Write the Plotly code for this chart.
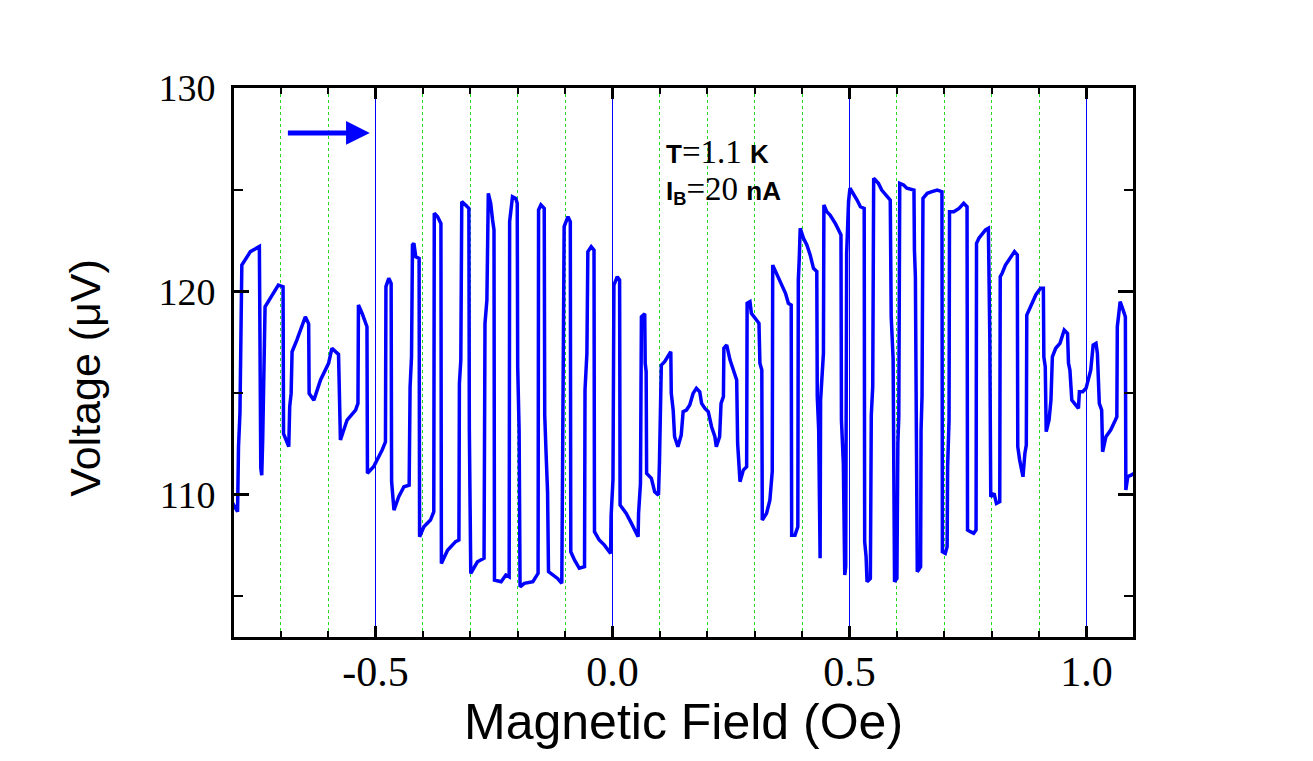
import plotly.graph_objects as go

# ---- data ----
field = [
    -0.803, -0.791, -0.789, -0.786, -0.782, -0.773, -0.764, -0.745, -0.742, -0.740,
    -0.738, -0.733, -0.705, -0.695, -0.694, -0.683, -0.681, -0.678, -0.676, -0.666,
    -0.648, -0.641, -0.640, -0.630, -0.616, -0.599, -0.592, -0.578, -0.574, -0.560,
    -0.542, -0.537, -0.536, -0.528, -0.521, -0.518, -0.517, -0.504, -0.486,
    -0.479, -0.478, -0.472, -0.467, -0.466, -0.461, -0.451, -0.440, -0.429, -0.427,
    -0.425, -0.424, -0.422, -0.419, -0.415, -0.408, -0.407, -0.398, -0.384, -0.377,
    -0.376, -0.369, -0.362, -0.361, -0.348, -0.331, -0.324, -0.323, -0.320, -0.318,
    -0.310, -0.303, -0.302, -0.299, -0.285, -0.271, -0.269, -0.265, -0.262, -0.257,
    -0.253, -0.250, -0.249, -0.235, -0.225, -0.218, -0.217, -0.213, -0.211, -0.204,
    -0.201, -0.200, -0.197, -0.195, -0.186, -0.168,
    -0.161, -0.157, -0.156, -0.151, -0.144, -0.143, -0.140, -0.137, -0.135, -0.126,
    -0.116, -0.107, -0.106, -0.104, -0.102, -0.094, -0.089, -0.088, -0.080, -0.070,
    -0.059, -0.058, -0.054, -0.052, -0.045, -0.039, -0.038, -0.028, -0.017, -0.004,
    -0.003, 0.001, 0.003, 0.010, 0.015, 0.016, 0.029, 0.040, 0.054, 0.055,
    0.059, 0.061, 0.068, 0.069, 0.071, 0.072, 0.082, 0.089, 0.097, 0.099,
    0.103, 0.110, 0.123, 0.124, 0.128, 0.131, 0.138, 0.145, 0.149,
    0.156, 0.163, 0.170, 0.177, 0.184, 0.188, 0.195, 0.202, 0.209, 0.216,
    0.219, 0.226, 0.229, 0.234, 0.235, 0.241, 0.248, 0.255, 0.262, 0.264,
    0.269, 0.276, 0.283, 0.284, 0.290, 0.293, 0.304, 0.309, 0.311, 0.315,
    0.316, 0.325, 0.332, 0.337, 0.338, 0.343, 0.350, 0.357, 0.365, 0.371,
    0.377, 0.378, 0.385, 0.391, 0.392, 0.394, 0.396, 0.403, 0.410, 0.417,
    0.424, 0.431, 0.432, 0.435, 0.438, 0.439, 0.442, 0.445, 0.446, 0.452,
    0.459, 0.466,
    0.470, 0.477, 0.482, 0.483, 0.487, 0.490, 0.492, 0.494, 0.498, 0.501,
    0.508, 0.516, 0.523, 0.531, 0.532, 0.535, 0.537, 0.544, 0.546, 0.549,
    0.551, 0.561, 0.568, 0.579, 0.586, 0.588, 0.592, 0.595, 0.600, 0.602,
    0.604, 0.606, 0.614, 0.621, 0.636, 0.637, 0.639, 0.643, 0.650, 0.651,
    0.653, 0.655, 0.664, 0.674, 0.685, 0.695, 0.696, 0.702, 0.706, 0.707,
    0.710, 0.711, 0.720, 0.731, 0.741, 0.748, 0.749, 0.755, 0.762, 0.767,
    0.768, 0.773, 0.780,
    0.787, 0.793, 0.794, 0.796, 0.798, 0.805, 0.810, 0.817, 0.818, 0.822,
    0.829, 0.836, 0.848, 0.854, 0.855, 0.859, 0.863, 0.866, 0.870, 0.873,
    0.874, 0.879, 0.886, 0.893, 0.903, 0.909, 0.910, 0.913, 0.915, 0.921,
    0.925, 0.928, 0.935, 0.944, 0.953, 0.960, 0.962, 0.965, 0.969, 0.976,
    0.983, 0.985, 0.992, 0.999, 1.004, 1.009, 1.014, 1.020, 1.023, 1.027,
    1.032, 1.034, 1.041, 1.051, 1.061, 1.064, 1.065, 1.068, 1.071, 1.076,
    1.082, 1.083, 1.087, 1.094, 1.101,
]

voltage = [
    109.65, 109.16, 112.36, 114.00, 121.29, 121.60, 121.95, 122.20, 111.30, 110.96,
    112.69, 119.24, 120.31, 120.23, 113.00, 112.36, 114.33, 114.98, 117.03, 117.60,
    118.75, 118.40, 114.98, 114.65, 115.64, 116.46, 117.20, 116.90, 112.69, 113.67,
    114.16, 114.49, 119.33, 118.90, 118.40, 118.26, 111.05, 111.37, 112.20,
    112.60, 120.23, 120.64, 120.39, 110.64, 109.24, 109.90, 110.39, 110.47, 115.31,
    116.05, 116.78, 122.28, 122.36, 121.70, 121.62, 107.93, 108.42, 108.75, 109.16,
    123.84, 123.67, 123.34, 106.62, 107.27, 107.69, 107.77, 115.47, 116.62, 124.41,
    124.25, 124.08, 113.18, 106.13, 106.70, 106.87, 118.43, 119.57, 124.82, 124.33,
    123.51, 123.02, 105.80, 105.72, 106.05, 105.96, 123.43, 124.33, 124.65, 124.57,
    124.33, 116.30, 113.18, 105.47, 105.64, 105.72,
    105.96, 106.13, 124.00, 124.25, 124.08, 113.92, 111.95, 110.14, 106.21, 106.05,
    105.88, 105.64, 110.06, 112.36, 123.18, 123.67, 123.43, 107.19, 106.78, 106.38,
    106.46, 115.15, 116.95, 121.95, 122.20, 122.03, 108.18, 107.77, 107.52, 107.11,
    108.92, 110.72, 120.31, 120.72, 120.56, 109.49, 109.08, 108.59, 107.93, 109.08,
    110.55, 118.75, 118.90, 116.46, 116.05, 111.05, 110.80, 110.14, 109.98, 111.54,
    116.37, 116.54, 117.03, 114.98, 114.16, 112.85, 112.36, 112.93, 114.08,
    114.16, 114.41, 114.98, 115.23, 115.06, 114.49, 114.24, 114.08, 113.34, 112.85,
    112.36, 112.85, 114.49, 114.82, 117.20, 117.36, 116.62, 116.13, 115.64, 112.52,
    110.64, 111.21, 111.37, 119.41, 119.49, 118.92, 118.59, 118.43, 116.46, 116.13,
    108.75, 109.08, 109.73, 111.13, 121.29, 121.05, 120.64, 120.31, 119.90, 119.41,
    119.33, 108.01, 108.01, 108.42, 120.56, 121.62, 123.10, 122.61, 122.28, 121.79,
    121.13, 120.97, 114.82, 113.18, 106.87, 114.65, 115.64, 116.95, 124.25, 123.92,
    123.75, 123.51,
    123.34, 123.02, 122.77, 113.67, 111.54, 106.05, 106.46, 121.87, 124.41, 125.07,
    124.82, 124.49, 124.16, 124.08, 107.69, 106.95, 105.72, 105.88, 113.92, 115.31,
    125.56, 125.31, 124.98, 124.65, 124.49, 118.75, 116.70, 105.72, 105.88, 112.52,
    113.83, 125.31, 125.23, 125.07, 124.98, 122.03, 120.72, 106.21, 106.46, 113.18,
    114.82, 124.57, 124.82, 124.90, 124.98, 124.90, 107.19, 107.11, 107.44, 111.37,
    113.67, 123.92, 123.92, 124.08, 124.33, 124.16, 108.26, 108.18, 108.10, 108.26,
    122.36, 122.61, 122.85,
    123.02, 123.10, 118.59, 117.77, 109.90, 110.06, 109.57, 109.65, 120.72, 120.89,
    121.29, 121.54, 121.95, 121.79, 112.36, 111.70, 111.29, 110.88, 112.03, 112.44,
    118.83, 119.08, 119.49, 119.82, 120.15, 120.15, 116.78, 116.29, 113.10, 113.67,
    114.65, 116.78, 117.20, 117.44, 118.10, 117.93, 116.46, 116.13, 114.65, 114.41,
    114.24, 115.06, 115.06, 115.23, 115.72, 116.13, 117.36, 117.44, 116.95, 114.49,
    114.16, 112.11, 112.85, 113.18, 113.67, 113.83, 118.26, 118.75, 119.49, 119.16,
    118.75, 110.23, 110.88, 110.96, 111.05,
]

# axis range chosen so the 0.5-step grid lines fall on pixel centres (crisp blue lines)
x_range = [-0.7985232, 1.0981013]
y_range = [103, 130]
x_tick_values = [-0.5, 0.0, 0.5, 1.0]
x_tick_labels = ["-0.5", "0.0", "0.5", "1.0"]
x_minor_values = [-0.7, -0.6, -0.4, -0.3, -0.2, -0.1, 0.1, 0.2, 0.3, 0.4,
                  0.6, 0.7, 0.8, 0.9]
y_tick_values = [110, 120, 130]
y_tick_labels = ["110", "120", "130"]
y_minor_values = [105, 115, 125]

x_title = "Magnetic Field (Oe)"
y_title = "Voltage (μV)"
arrow_start = [-0.688, 127.79]
arrow_end = [-0.512, 127.79]

BLUE = "#0000FF"
GREEN = "#22DD22"
SERIF = "Liberation Serif, Times New Roman, serif"
SANS = "Liberation Sans, Arial, sans-serif"

fig = go.Figure()
fig.add_trace(go.Scatter(
    x=field, y=voltage, mode="lines",
    line=dict(color=BLUE, width=3.5), showlegend=False, hoverinfo="skip",
))

# the page body adds an 8px offset, so the figure is 8px smaller and margins shifted
fig.update_layout(
    width=1305, height=753,
    margin=dict(l=226, r=180, t=80, b=124),
    paper_bgcolor="white", plot_bgcolor="white",
    showlegend=False,
)

fig.update_xaxes(
    range=x_range, tickmode="array", tickvals=x_tick_values, ticktext=x_tick_labels,
    ticks="inside", ticklen=11, tickwidth=3, tickcolor="black",
    showline=True, linecolor="black", linewidth=3, mirror="ticks",
    showgrid=True, gridcolor=BLUE, gridwidth=1,
    zeroline=False,
    tickfont=dict(family=SERIF, size=42, color="black"),
    ticklabelstandoff=-4,
    minor=dict(tickmode="array", tickvals=x_minor_values, ticks="inside", ticklen=6,
               tickwidth=2, tickcolor="black",
               showgrid=True, gridcolor=GREEN, griddash="dot", gridwidth=1),
)
fig.update_yaxes(
    range=y_range, tickmode="array", tickvals=y_tick_values, ticktext=y_tick_labels,
    ticks="inside", ticklen=15, tickwidth=3, tickcolor="black",
    showline=True, linecolor="black", linewidth=3, mirror="ticks",
    showgrid=False, zeroline=False,
    tickfont=dict(family=SERIF, size=38, color="black"),
    ticklabelstandoff=8,
    minor=dict(tickmode="array", tickvals=y_minor_values, ticks="inside", ticklen=9,
               tickwidth=2, tickcolor="black", showgrid=False),
)

# axis titles
fig.add_annotation(
    text=x_title, xref="paper", yref="paper", x=0.5, y=-0.155,
    xanchor="center", yanchor="middle", showarrow=False,
    font=dict(family=SANS, size=50, color="black"),
)
fig.add_annotation(
    text=y_title, xref="paper", yref="paper", x=-0.166, y=0.472,
    xanchor="center", yanchor="middle", showarrow=False, textangle=-90,
    font=dict(family=SANS, size=43, color="black"),
)

# in-plot labels
serif_span = '<span style="font-family:Liberation Serif;font-size:33px">'
fig.add_annotation(
    text='<b>T</b>' + serif_span + '=1.1 </span><b>K</b>',
    xref="x", yref="y", x=0.108, y=126.85, xanchor="left", yanchor="middle",
    showarrow=False, font=dict(family=SANS, size=26, color="black"),
)
fig.add_annotation(
    text='<b>I</b><sub><b>B</b></sub>' + serif_span + '=20 </span><b>nA</b>',
    xref="x", yref="y", x=0.108, y=125.0, xanchor="left", yanchor="middle",
    showarrow=False, font=dict(family=SANS, size=26, color="black"),
)

# sweep direction arrow
fig.add_annotation(
    x=arrow_end[0], y=arrow_end[1], ax=arrow_start[0], ay=arrow_start[1],
    xref="x", yref="y", axref="x", ayref="y", text="",
    showarrow=True, arrowhead=2, arrowsize=0.95, arrowwidth=5, arrowcolor=BLUE,
)

fig.write_html("out.html")
